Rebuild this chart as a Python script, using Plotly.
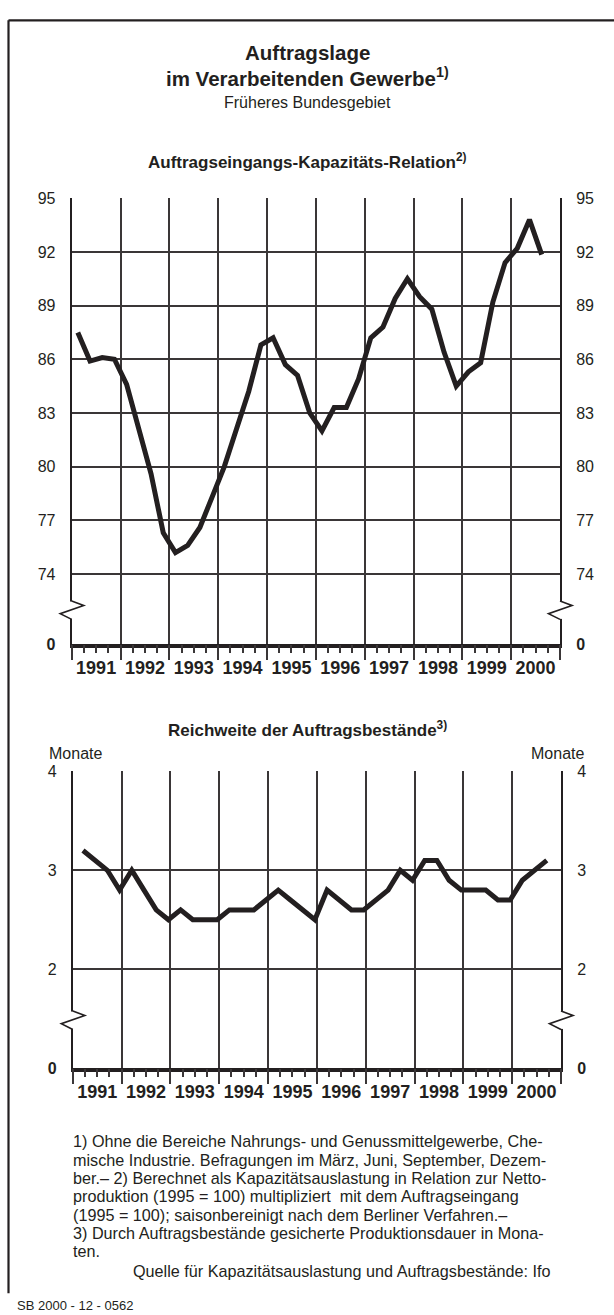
import plotly.graph_objects as go

W, H = 614, 1315
INK = "#231f20"
GRID = "#3a3637"
FONT = "Liberation Sans, Arial, Helvetica, sans-serif"

# ---------------- data ----------------
years = list(range(1991, 2001))
year_labels = [str(y) for y in years]

# Auftragseingangs-Kapazitäts-Relation, quarterly (1991 Q1 .. 2000 Q3)
relation_values = [
    87.5, 85.9, 86.1, 86.0,
    84.6, 82.0, 79.6, 76.3,
    75.2, 75.6, 76.6, 78.3,
    80.0, 82.1, 84.2, 86.8,
    87.2, 85.7, 85.1, 83.0,
    82.0, 83.3, 83.3, 84.9,
    87.2, 87.8, 89.4, 90.5,
    89.5, 88.8, 86.4, 84.5,
    85.3, 85.8, 89.2, 91.4,
    92.2, 93.8, 91.85,
]

# Reichweite der Auftragsbestände in Monaten, surveys March/June/Sept/Dec
reichweite_values = [
    3.2, 3.1, 3.0, 2.8,
    3.0, 2.8, 2.6, 2.5,
    2.6, 2.5, 2.5, 2.5,
    2.6, 2.6, 2.6, 2.7,
    2.8, 2.7, 2.6, 2.5,
    2.8, 2.7, 2.6, 2.6,
    2.7, 2.8, 3.0, 2.9,
    3.1, 3.1, 2.9, 2.8,
    2.8, 2.8, 2.7, 2.7,
    2.9, 3.0, 3.1,
]

top_ticks = [74, 77, 80, 83, 86, 89, 92, 95]
bottom_ticks = [2, 3, 4]
survey_months = [3, 6, 9, 12]

# time positions
top_x = [years[i // 4] + ((i % 4) + 0.5) / 4 for i in range(len(relation_values))]
bot_x = [years[i // 4] + (survey_months[i % 4] - 0.5) / 12 for i in range(len(reichweite_values))]

# broken-axis bases (value shown as "0")
TOP_BASE = 70.08
BOT_BASE = 1.0


def px(x):
    return x / W


def py(y):
    return 1 - y / H


fig = go.Figure()

# ---------------- chart geometry ----------------
charts = [
    dict(xs="", ys="", xo="2", yo="2", left=71.7, right=560.0, top=192.7, bottom=646.0,
         base=TOP_BASE, ticks=top_ticks, ymax=95, xdata=top_x, ydata=relation_values),
    dict(xs="3", ys="3", xo="4", yo="4", left=72.8, right=561.0, top=773.3, bottom=1075.7,
         base=BOT_BASE, ticks=bottom_ticks, ymax=4, xdata=bot_x, ydata=reichweite_values),
]

quarter_ticks = [y + q / 4 for y in years for q in (1, 2, 3)]
mid_years = [y + 0.5 for y in years]
year_edges = years + [2001]

layout = dict(
    width=W, height=H,
    margin=dict(l=0, r=0, t=0, b=0),
    paper_bgcolor="white", plot_bgcolor="white",
    showlegend=False,
    font=dict(family=FONT, color=INK, size=16),
)

for c in charts:
    xd = [px(c["left"]), px(c["right"])]
    yd = [py(c["bottom"] - 1.5), py(c["top"])]
    yr = [c["base"], c["ymax"]]
    yvals = [c["base"]] + c["ticks"]
    ytext = ["<b>0</b>"] + [str(t) for t in c["ticks"]]

    fig.add_trace(go.Scatter(
        x=c["xdata"], y=c["ydata"], mode="lines",
        line=dict(color=INK, width=5), hoverinfo="skip",
        xaxis="x" + c["xs"], yaxis="y" + c["ys"]))
    fig.add_trace(go.Scatter(
        x=[None], y=[None], mode="lines", hoverinfo="skip",
        xaxis="x" + c["xo"], yaxis="y" + c["yo"]))

    xk = "xaxis" + c["xs"]
    yk = "yaxis" + c["ys"]
    xk2 = "xaxis" + c["xo"]
    yk2 = "yaxis" + c["yo"]

    layout[xk] = dict(
        domain=xd, anchor="y" + c["ys"], range=[1991, 2001],
        tickmode="array", tickvals=mid_years,
        ticktext=["<b>%s</b>" % t for t in year_labels],
        tickfont=dict(size=18, family=FONT, color=INK),
        ticks="outside", ticklen=4, tickcolor="rgba(0,0,0,0)",
        showgrid=False, zeroline=False,
        showline=True, linewidth=4, linecolor=INK, fixedrange=True,
    )
    layout[xk2] = dict(
        overlaying="x" + c["xs"], anchor="y" + c["ys"], range=[1991, 2001],
        tickmode="array", tickvals=year_edges, showticklabels=False,
        ticks="outside", ticklen=15, tickwidth=2, tickcolor=GRID,
        minor=dict(tickmode="array", tickvals=quarter_ticks, ticks="outside",
                   ticklen=8, tickwidth=2, tickcolor=GRID, showgrid=False),
        showgrid=True, gridcolor=GRID, gridwidth=2,
        zeroline=False, showline=False, fixedrange=True,
    )
    common_y = dict(
        range=yr, tickmode="array", tickvals=yvals, ticktext=ytext,
        tickfont=dict(size=16, family=FONT, color=INK),
        ticks="outside", ticklen=11, tickcolor="rgba(0,0,0,0)",
        zeroline=False, showline=True, linewidth=2, linecolor=INK, fixedrange=True,
    )
    layout[yk] = dict(domain=yd, anchor="x" + c["xs"], side="left",
                      showgrid=True, gridcolor=GRID, gridwidth=2, **common_y)
    layout[yk2] = dict(overlaying="y" + c["ys"], anchor="x" + c["xs"], side="right",
                       showgrid=False, **common_y)

fig.update_layout(**layout)

# ---------------- shapes: frame + axis breaks ----------------
shapes = [
    dict(type="line", xref="paper", yref="paper", x0=px(8.5), y0=py(12.5), x1=px(614), y1=py(12.5),
         line=dict(color=INK, width=2.2)),
    dict(type="line", xref="paper", yref="paper", x0=px(8.5), y0=py(12.5), x1=px(8.5), y1=py(1302),
         line=dict(color=INK, width=2.2)),
]

breaks = [
    (71.7, 601.3), (560.0, 601.3),
    (72.8, 1016.7), (561.0, 1016.7),
]
for ax, y0 in breaks:
    shapes.append(dict(type="rect", xref="paper", yref="paper", layer="above",
                       x0=px(ax - 2), x1=px(ax + 2), y0=py(y0), y1=py(y0 + 17.6),
                       fillcolor="white", line=dict(width=0)))
    path = "M {},{} L {},{} L {},{} L {},{}".format(
        px(ax), py(y0 - 0.5), px(ax + 12), py(y0 + 4.0),
        px(ax - 11.5), py(y0 + 12.3), px(ax), py(y0 + 18.1))
    shapes.append(dict(type="path", xref="paper", yref="paper", layer="above", path=path,
                       line=dict(color=INK, width=1.6)))
fig.update_layout(shapes=shapes)

# ---------------- text ----------------
ann = []


def text(s, x, y, size, xanchor="center", bold=False):
    ann.append(dict(text=("<b>%s</b>" % s) if bold else s, x=px(x), y=py(y),
                    xref="paper", yref="paper", xanchor=xanchor, yanchor="middle",
                    showarrow=False, font=dict(size=size, family=FONT, color=INK)))


text("Auftragslage", 307, 45, 20.5, bold=True)
text("im Verarbeitenden Gewerbe<sup>1)</sup>", 307, 70, 20.5, bold=True)
text("Früheres Bundesgebiet", 307, 96, 16)
text("Auftragseingangs-Kapazitäts-Relation<sup>2)</sup>", 307, 155, 17, bold=True)
text("Reichweite der Auftragsbestände<sup>3)</sup>", 307, 730, 17, bold=True)
text("Monate", 47, 755, 16, xanchor="left")
text("Monate", 586, 755, 16, xanchor="right")

foot = [
    "1) Ohne die Bereiche Nahrungs- und Genussmittelgewerbe, Che-",
    "mische Industrie. Befragungen im März, Juni, September, Dezem-",
    "ber.– 2) Berechnet als Kapazitätsauslastung in Relation zur Netto-",
    "produktion (1995 = 100) multipliziert  mit dem Auftragseingang",
    "(1995 = 100); saisonbereinigt nach dem Berliner Verfahren.–",
    "3) Durch Auftragsbestände gesicherte Produktionsdauer in Mona-",
    "ten.",
]
for i, line in enumerate(foot):
    text(line, 71, 1148 + i * 18.6, 16.2, xanchor="left")
text("Quelle für Kapazitätsauslastung und Auftragsbestände: Ifo", 553, 1280, 16.2, xanchor="right")
text("SB 2000 - 12 - 0562", 15, 1314.5, 13, xanchor="left")

fig.update_layout(annotations=ann)

fig.write_html(
    "out.html",
    config={"displayModeBar": False, "staticPlot": True},
    post_script="document.body.style.margin='0px';document.body.style.padding='0px';",
)
